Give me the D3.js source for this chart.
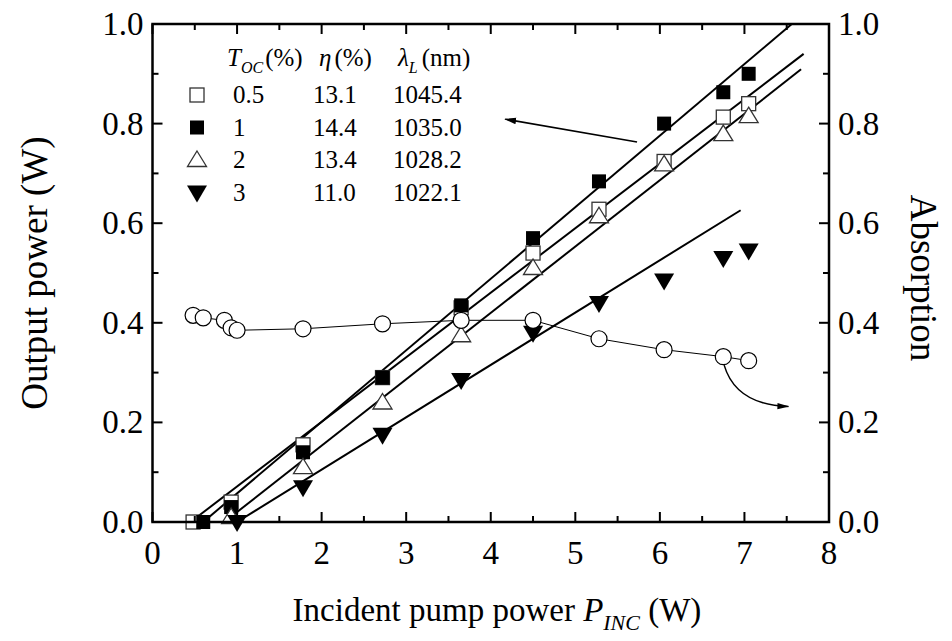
<!DOCTYPE html>
<html>
<head>
<meta charset="utf-8">
<script src="https://cdnjs.cloudflare.com/ajax/libs/d3/7.8.5/d3.min.js"></script>
<style>
  body { margin: 0; background: #fff; }
  svg { display: block; font-family: "Liberation Serif", "Times New Roman", serif; }
</style>
</head>
<body>
<div id="chart"></div>
<script>
//Output power data, one pair of arrays per output coupler
var oc05X = [0.48, 0.93, 1.78, 2.72, 3.65, 4.5, 5.28, 6.05, 6.75, 7.05];
var oc05Y = [0.0, 0.04, 0.155, 0.29, 0.43, 0.54, 0.628, 0.724, 0.813, 0.84];
var oc1X = [0.6, 0.93, 1.78, 2.72, 3.65, 4.5, 5.28, 6.05, 6.75, 7.05];
var oc1Y = [0.0, 0.03, 0.14, 0.29, 0.435, 0.57, 0.684, 0.80, 0.863, 0.90];
var oc2X = [0.93, 1.78, 2.72, 3.65, 4.5, 5.28, 6.05, 6.75, 7.05];
var oc2Y = [0.01, 0.11, 0.24, 0.375, 0.51, 0.614, 0.718, 0.779, 0.815];
var oc3X = [1.0, 1.78, 2.72, 3.65, 4.5, 5.28, 6.05, 6.75, 7.05];
var oc3Y = [0.0, 0.07, 0.175, 0.285, 0.38, 0.44, 0.485, 0.53, 0.545];
//Absorption (right axis)
var absX = [0.48, 0.6, 0.85, 0.93, 1.0, 1.78, 2.72, 3.65, 4.5, 5.28, 6.05, 6.75, 7.05];
var absY = [0.415, 0.41, 0.405, 0.39, 0.385, 0.388, 0.398, 0.405, 0.405, 0.368, 0.346, 0.332, 0.324];
//Linear fits: start and end of each line
var fitX0 = [0.45, 0.6, 0.85, 1.0];
var fitX1 = [7.70, 7.56, 7.67, 6.955];
var fitY1 = [0.94, 1.0, 0.909, 0.626];
//Legend table
var tocLabels = ["0.5", "1", "2", "3"];
var etaLabels = ["13.1", "14.4", "13.4", "11.0"];
var lambdaLabels = ["1045.4", "1035.0", "1028.2", "1022.1"];
var markerKinds = ["openSquare", "square", "openTriangle", "downTriangle"];
//Ticks
var xTicks = [0, 1, 2, 3, 4, 5, 6, 7, 8];
var yTicks = [0, 0.2, 0.4, 0.6, 0.8, 1.0];

var W = 952, H = 641;
var mLeft = 152.5, mRight = 829, mTop = 24, mBottom = 522;

var svg = d3.select("#chart").append("svg")
  .attr("width", W)
  .attr("height", H);

var x = d3.scaleLinear().domain([0, 8]).range([mLeft, mRight]);
var y = d3.scaleLinear().domain([0, 1]).range([mBottom, mTop]);
var y2 = d3.scaleLinear().domain([0, 1]).range([mBottom, mTop]);

var defs = svg.append("defs");
defs.append("marker")
  .attr("id", "arrow")
  .attr("viewBox", "0 0 12 8")
  .attr("refX", 11).attr("refY", 4)
  .attr("markerWidth", 12).attr("markerHeight", 8)
  .attr("markerUnits", "userSpaceOnUse")
  .attr("orient", "auto")
  .append("path")
  .attr("d", "M0,0.8 L12,4 L0,7.2 Z")
  .attr("fill", "#000");

//Marker shapes
function drawMarker(g, kind, cx, cy) {
  if (kind == "openSquare" || kind == "square") {
    g.append("rect")
      .attr("x", cx - 7).attr("y", cy - 7)
      .attr("width", 14).attr("height", 14)
      .attr("fill", kind == "square" ? "#000" : "#fff")
      .attr("stroke", kind == "square" ? "none" : "#333")
      .attr("stroke-width", 1.3);
  } else if (kind == "openTriangle") {
    g.append("path")
      .attr("d", "M" + cx + "," + (cy - 9) + " L" + (cx + 9.5) + "," + (cy + 6.5) + " L" + (cx - 9.5) + "," + (cy + 6.5) + " Z")
      .attr("fill", "#fff").attr("stroke", "#333").attr("stroke-width", 1.3);
  } else if (kind == "downTriangle") {
    g.append("path")
      .attr("d", "M" + (cx - 10) + "," + (cy - 7) + " L" + (cx + 10) + "," + (cy - 7) + " L" + cx + "," + (cy + 10) + " Z")
      .attr("fill", "#000");
  } else if (kind == "circle") {
    g.append("circle")
      .attr("cx", cx).attr("cy", cy).attr("r", 8)
      .attr("fill", "#fff").attr("stroke", "#000").attr("stroke-width", 1.2);
  }
}

//Fit lines
var fits = svg.append("g");
fitX0.forEach(function(x0, i) {
  fits.append("line")
    .attr("x1", x(x0)).attr("y1", y(0))
    .attr("x2", x(fitX1[i])).attr("y2", y(fitY1[i]))
    .attr("stroke", "#000")
    .attr("stroke-width", 2);
});

//Absorption line
svg.append("path")
  .datum(d3.zip(absX, absY))
  .attr("d", d3.line().x(function(d) { return x(d[0]); }).y(function(d) { return y2(d[1]); }))
  .attr("fill", "none")
  .attr("stroke", "#000")
  .attr("stroke-width", 1);

//Points
var series = [
  {xs: oc05X, ys: oc05Y, kind: "openSquare"},
  {xs: oc1X, ys: oc1Y, kind: "square"},
  {xs: oc2X, ys: oc2Y, kind: "openTriangle"},
  {xs: oc3X, ys: oc3Y, kind: "downTriangle"}
];
var pts = svg.append("g");
series.forEach(function(s) {
  s.xs.forEach(function(xv, i) {
    drawMarker(pts, s.kind, x(xv), y(s.ys[i]));
  });
});
absX.forEach(function(xv, i) {
  drawMarker(pts, "circle", x(xv), y2(absY[i]));
});

//Arrows
svg.append("line")
  .attr("x1", x(5.73)).attr("y1", y(0.763))
  .attr("x2", x(4.17)).attr("y2", y(0.809))
  .attr("stroke", "#000").attr("stroke-width", 1.5)
  .attr("marker-end", "url(#arrow)");
svg.append("path")
  .attr("d", "M" + x(6.76) + "," + y2(0.315) + " Q" + x(6.9) + "," + y2(0.235) + " " + x(7.52) + "," + y2(0.232))
  .attr("fill", "none").attr("stroke", "#000").attr("stroke-width", 1.5)
  .attr("marker-end", "url(#arrow)");

//Frame
svg.append("rect")
  .attr("x", mLeft).attr("y", mTop)
  .attr("width", mRight - mLeft).attr("height", mBottom - mTop)
  .attr("fill", "none").attr("stroke", "#000").attr("stroke-width", 2.5);

//Ticks (inward, mirrored on all sides)
var axes = svg.append("g").attr("stroke", "#000").attr("stroke-width", 2);
d3.range(0, 8.01, 0.5).forEach(function(t) {
  var len = (t % 1 == 0) ? 10 : 6;
  axes.append("line").attr("x1", x(t)).attr("x2", x(t)).attr("y1", mBottom).attr("y2", mBottom - len);
  axes.append("line").attr("x1", x(t)).attr("x2", x(t)).attr("y1", mTop).attr("y2", mTop + len);
});
d3.range(0, 1.001, 0.1).forEach(function(t, i) {
  var len = (i % 2 == 0) ? 10 : 6;
  axes.append("line").attr("x1", mLeft).attr("x2", mLeft + len).attr("y1", y(t)).attr("y2", y(t));
  axes.append("line").attr("x1", mRight).attr("x2", mRight - len).attr("y1", y2(t)).attr("y2", y2(t));
});

//Tick labels
svg.append("g").selectAll("text").data(xTicks).enter().append("text")
  .attr("x", function(d) { return x(d); })
  .attr("y", 564)
  .attr("text-anchor", "middle")
  .style("font-size", "33px")
  .text(function(d) { return d; });
svg.append("g").selectAll("text").data(yTicks).enter().append("text")
  .attr("x", mLeft - 9)
  .attr("y", function(d) { return y(d) + 11; })
  .attr("text-anchor", "end")
  .style("font-size", "33px")
  .text(function(d) { return d.toFixed(1); });
svg.append("g").selectAll("text").data(yTicks).enter().append("text")
  .attr("x", mRight + 9)
  .attr("y", function(d) { return y2(d) + 11; })
  .attr("text-anchor", "start")
  .style("font-size", "33px")
  .text(function(d) { return d.toFixed(1); });

//Axis titles
svg.append("text")
  .attr("transform", "translate(47,273) rotate(-90)")
  .attr("text-anchor", "middle")
  .style("font-size", "37px")
  .text("Output power (W)");
svg.append("text")
  .attr("transform", "translate(911,278) rotate(90)")
  .attr("text-anchor", "middle")
  .style("font-size", "37px")
  .text("Absorption");
var xt = svg.append("text")
  .attr("x", 497).attr("y", 621)
  .attr("text-anchor", "middle")
  .style("font-size", "33px");
xt.append("tspan").text("Incident pump power ");
xt.append("tspan").style("font-style", "italic").text("P");
xt.append("tspan").style("font-style", "italic").style("font-size", "22px").attr("dy", 9).text("INC");
xt.append("tspan").attr("dy", -9).text(" (W)");

//Legend table
var leg = svg.append("g").style("font-size", "25px");
var h1 = leg.append("text").attr("x", 227).attr("y", 66);
h1.append("tspan").style("font-style", "italic").text("T");
h1.append("tspan").style("font-style", "italic").style("font-size", "16px").attr("dy", 7).text("OC");
h1.append("tspan").attr("dy", -7).attr("dx", 2).text("(%)");
var h2 = leg.append("text").attr("x", 319).attr("y", 66);
h2.append("tspan").style("font-style", "italic").text("η");
h2.append("tspan").attr("dx", 3).text("(%)");
var h3 = leg.append("text").attr("x", 398).attr("y", 66);
h3.append("tspan").style("font-style", "italic").text("λ");
h3.append("tspan").style("font-style", "italic").style("font-size", "16px").attr("dy", 7).text("L");
h3.append("tspan").attr("dy", -7).attr("dx", 4).text("(nm)");
tocLabels.forEach(function(t, i) {
  var by = 103 + i * 32.5;
  drawMarker(leg, markerKinds[i], 197, by - 8);
  leg.append("text").attr("x", 233).attr("y", by).text(t);
  leg.append("text").attr("x", 313).attr("y", by).text(etaLabels[i]);
  leg.append("text").attr("x", 393).attr("y", by).text(lambdaLabels[i]);
});
</script>
</body>
</html>
